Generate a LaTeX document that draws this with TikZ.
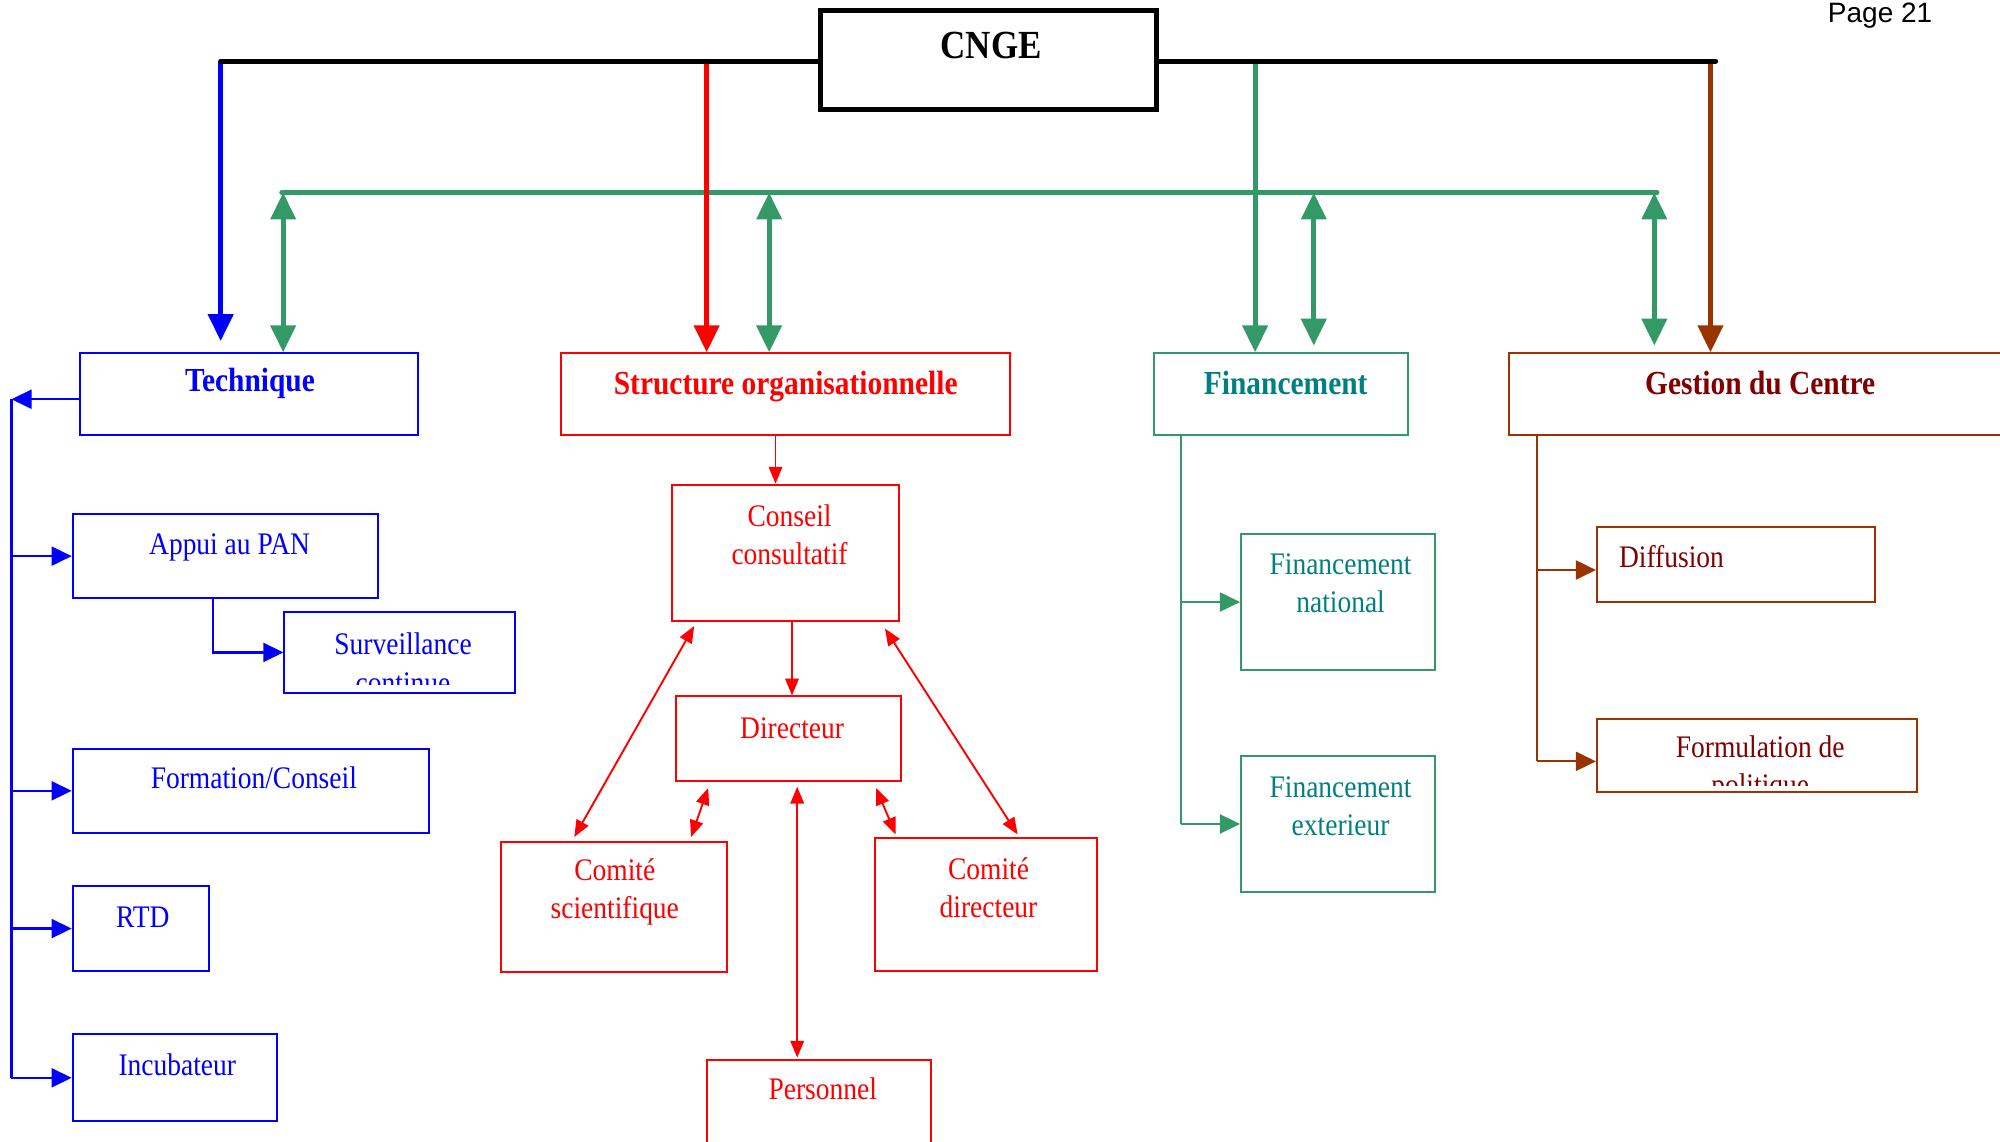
\documentclass[tikz,border=0pt]{standalone}
\usepackage{fontspec}
\setmainfont{Liberation Serif}[FakeStretch=0.876]
\newfontfamily\pagefont{Liberation Sans}
\usetikzlibrary{arrows.meta,fit}
\definecolor{sgreen}{RGB}{51,153,102}
\definecolor{tealtxt}{RGB}{0,128,128}
\definecolor{brownline}{RGB}{153,51,0}
\definecolor{darkredtxt}{RGB}{128,0,0}
\begin{document}
\begin{tikzpicture}[x=0.02cm,y=-0.02cm,
    box/.style={draw,inner sep=0,line width=0.9pt},
    lbl/.style={inner sep=0,font=\fontsize{14}{17}\selectfont,text height=1.55ex,text depth=0.3ex},
    mlbl/.style={inner sep=0,align=center,font=\fontsize{14}{17}\selectfont},
    bold/.style={font=\fontsize{15}{17}\selectfont\bfseries},
    trunk/.style={line width=2.3pt,>={Triangle[length=12pt,width=11pt]}},
    branch/.style={line width=1pt,>={Triangle[length=9pt,width=8.5pt]}},
    link/.style={line width=0.85pt,>={Triangle[length=7.5pt,width=6pt]}}]
        \clip (0,0) rectangle (1568,895);
        % top of the chart
        \node[box,line width=2.3pt,fit={(643,8) (907,86)}] (cnge) {};
        \node[lbl,font=\fontsize{17.8}{20}\selectfont\bfseries] (cngeT) at (777,41) {CNGE};
        \node[inner sep=0,font=\pagefont\fontsize{12.5}{14}\selectfont] (page) at (1474,12) {Page 21};
        \coordinate (busL) at (173,48);
        \coordinate (busR) at (1345,48);
        \coordinate (gbL) at (221,151);
        \coordinate (gbR) at (1299,151);
        % main boxes
        \node[box,blue,fit={(63,277) (328,341)}] (tech) {};
        \node[box,red,fit={(440,277) (792,341)}] (struct) {};
        \node[box,sgreen,fit={(905,277) (1104,341)}] (fin) {};
        \node[box,brownline,fit={(1183,277) (1580,341)}] (gest) {};
        \node[lbl,bold,blue] (techT) at (196,302) {Technique};
        \node[lbl,bold,red] (structT) at (616,304) {Structure organisationnelle};
        \node[lbl,bold,tealtxt] (finT) at (1008,304) {Financement};
        \node[lbl,bold,darkredtxt] (gestT) at (1380,304) {Gestion du Centre};
        % green bus and links
        \draw[trunk,sgreen,line cap=round] (gbL) -- (gbR);
        \coordinate (gT) at (222,151);
        \coordinate (gS) at (603,151);
        \coordinate (gF) at (1030,151);
        \coordinate (gG) at (1297,151);
        \draw[trunk,sgreen,<->] (gT) -- (gT |- tech.north);
        \draw[trunk,sgreen,<->] (gS) -- (gS |- struct.north);
        \draw[trunk,sgreen,<->] (gF) -- ([yshift=3pt]gF |- fin.north);
        \draw[trunk,sgreen,<->] (gG) -- ([yshift=3pt]gG |- gest.north);
        % drops from CNGE
        \coordinate (dS) at (554,48);
        \coordinate (dF) at (984,48);
        \coordinate (dG) at (1341,48);
        \draw[trunk,blue,->] (busL) -- ([yshift=5pt]busL |- tech.north);
        \draw[trunk,red,->] (dS) -- (dS |- struct.north);
        \draw[trunk,sgreen,->] (dF) -- (dF |- fin.north);
        \draw[trunk,brownline,->] (dG) -- (dG |- gest.north);
        \draw[trunk,line cap=round] (busL) -- (cnge.west |- busL);
        \draw[trunk,line cap=round] (cnge.east |- busR) -- (busR);
        % Technique
        \node[box,blue,fit={(57,403) (296,469)}] (appui) {};
        \node[box,blue,fit={(223,480) (404,543)}] (surv) {};
        \node[box,blue,fit={(57,587) (336,653)}] (form) {};
        \node[box,blue,fit={(57,695) (164,761)}] (rtd) {};
        \node[box,blue,fit={(57,811) (217,879)}] (incub) {};
        \coordinate (tsp) at (9,313);
        \draw[branch,blue,->] (tech.west |- tsp) -- (tsp);
        \draw[branch,blue] (tsp) -- (tsp |- incub.west);
        \foreach \n in {appui,form,rtd,incub}
            \draw[branch,blue,->] (tsp |- \n.west) -- (\n.west);
        \coordinate (aturn) at (167,469);
        \draw[branch,blue,->] (aturn) |- (surv.west);
        \node[lbl,blue] (appuiT) at (180,430) {Appui au PAN};
        \begin{scope}
            \clip (223,480) rectangle (404,537);
            \node[mlbl,blue] (survT) at (316,520) {Surveillance\\continue};
        \end{scope}
        \node[lbl,blue] (formT) at (199,613) {Formation/Conseil};
        \node[lbl,blue] (rtdT) at (112,722) {RTD};
        \node[lbl,blue] (incubT) at (139,838) {Incubateur};
        % Structure organisationnelle
        \node[box,red,fit={(527,380) (705,487)}] (cons) {};
        \node[box,red,fit={(530,546) (706,612)}] (dir) {};
        \node[box,red,fit={(393,660) (570,762)}] (csci) {};
        \node[box,red,fit={(686,657) (860,761)}] (cdir) {};
        \node[box,red,fit={(554,831) (730,905)}] (pers) {};
        \coordinate (sdrop) at (608,341);
        \draw[link,red,->] (sdrop) -- (sdrop |- cons.north);
        \draw[link,red,->] ([xshift=2.8pt]cons.south) -- ([xshift=2.8pt]cons.south |- dir.north);
        \draw[link,red,<->] ([shift={(18,3)}]cons.south west) -- ([shift={(58,-3)}]csci.north west);
        \draw[link,red,<->] ([shift={(26,5)}]dir.south west) -- ([shift={(-29,-3)}]csci.north east);
        \draw[link,red,<->] ([shift={(7,4)}]dir.south) -- ([shift={(-17,-1)}]pers.north);
        \draw[link,red,<->] ([shift={(-20,5)}]dir.south east) -- ([shift={(17,-2)}]cdir.north west);
        \draw[link,red,<->] ([shift={(-12,5)}]cons.south east) -- ([shift={(-63,-2)}]cdir.north east);
        \node[mlbl,red] (consT) at (619,419) {Conseil\\consultatif};
        \node[lbl,red] (dirT) at (621,574) {Directeur};
        \node[mlbl,red] (csciT) at (482,699) {Comité\\scientifique};
        \node[mlbl,red] (cdirT) at (775,696) {Comité\\directeur};
        \node[lbl,red] (persT) at (645,857) {Personnel};
        % Financement
        \node[box,sgreen,fit={(973,419) (1125,525)}] (fnat) {};
        \node[box,sgreen,fit={(973,593) (1125,699)}] (fext) {};
        \coordinate (fsp) at (926,341);
        \draw[branch,sgreen] (fsp) -- (fsp |- fext.west);
        \foreach \n in {fnat,fext}
            \draw[branch,sgreen,->] (fsp |- \n.west) -- (\n.west);
        \node[mlbl,tealtxt] (fnatT) at (1051,457) {Financement\\national};
        \node[mlbl,tealtxt] (fextT) at (1051,632) {Financement\\exterieur};
        % Gestion du Centre
        \node[box,brownline,fit={(1252,413) (1470,472)}] (diff) {};
        \node[box,brownline,fit={(1252,564) (1503,621)}] (formu) {};
        \coordinate (gsp) at (1205,341);
        \draw[branch,brownline] (gsp) -- ([yshift=-2.5pt]gsp |- formu.west);
        \foreach \n in {diff,formu}
            \draw[branch,brownline,->] ([yshift=-2.5pt]gsp |- \n.west) -- ([yshift=-2.5pt]\n.west);
        \node[lbl,darkredtxt,anchor=west] (diffT) at (1269,440) {Diffusion};
        \begin{scope}
            \clip (1252,564) rectangle (1503,616);
            \node[mlbl,darkredtxt] (formuT) at (1380,603) {Formulation de\\politique};
        \end{scope}
    \end{tikzpicture}
\end{document}
